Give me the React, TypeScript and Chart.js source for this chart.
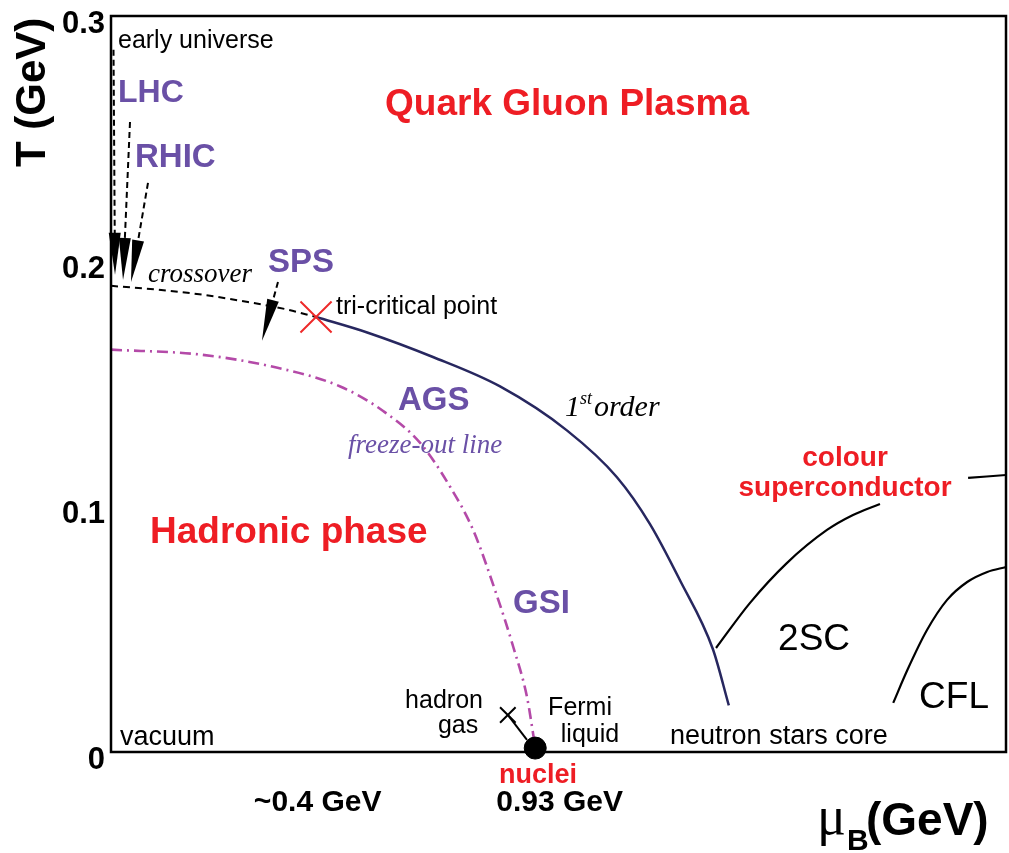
import { useEffect, useRef } from 'react';
import { Chart, registerables } from 'chart.js';

Chart.register(...registerables);

// ---- axis ticks ----
const yTickValues = [0, 0.1, 0.2, 0.3];
const yTickLabels = ['0', '0.1', '0.2', '0.3'];
const xTickValues = [0.4, 0.93];
const xTickLabels = ['~0.4 GeV', '0.93 GeV'];

// ---- curves (muB in GeV, T in GeV) ----
const crossoverMu = [0, 0.1, 0.2, 0.3, 0.38, 0.449];
const crossoverT = [0.19, 0.1885, 0.1864, 0.1834, 0.1806, 0.1773];

const firstOrderMu = [0.449, 0.561, 0.705, 0.852, 0.999, 1.108, 1.18, 1.246, 1.318, 1.353];
const firstOrderT = [0.1773, 0.171, 0.161, 0.149, 0.131, 0.112, 0.093, 0.07, 0.042, 0.019];

const freezeOutMu = [0, 0.195, 0.355, 0.502, 0.596, 0.677, 0.743, 0.793, 0.846, 0.881, 0.911, 0.929];
const freezeOutT = [0.164, 0.162, 0.157, 0.149, 0.139, 0.126, 0.108, 0.0905, 0.0632, 0.0428, 0.0224, 0.002];

const twoScMu = [1.325, 1.399, 1.48, 1.568, 1.625, 1.684, 1.78, 1.877, 1.96];
const twoScT = [0.0424, 0.0607, 0.077, 0.0905, 0.0966, 0.1011, null, 0.1117, 0.1129];

const cflMu = [1.713, 1.744, 1.787, 1.831, 1.875, 1.919, 1.96];
const cflT = [0.02, 0.0334, 0.0497, 0.062, 0.0693, 0.0734, 0.0754];

const hadronGasLineMu = [0.869, 0.911];
const hadronGasLineT = [0.0151, 0.0049];

const triCriticalMu = [0.449];
const triCriticalT = [0.1773];
const hadronGasMu = [0.869];
const hadronGasT = [0.0151];
const nucleiMu = [0.929];
const nucleiT = [0.0016];

// ---- beam arrows (early universe, LHC, RHIC, SPS) ----
const arrowFromMu = [0.0055, 0.0416, 0.081, 0.3657];
const arrowFromT = [0.2862, 0.2568, 0.232, 0.1916];
const arrowToMu = [0.0088, 0.0263, 0.0438, 0.3307];
const arrowToT = [0.1945, 0.1924, 0.1916, 0.1676];

const SANS = '"Liberation Sans", Arial, Helvetica, sans-serif';
const SERIF = '"Liberation Serif", "Times New Roman", serif';
const PURPLE = '#6a50a6';
const RED = '#ee1d24';
const NAVY = '#27275f';
const MAGENTA = '#b44aa8';

// ---- text annotations ----
const noteText = ['early universe', 'LHC', 'RHIC', 'crossover', 'SPS', 'tri-critical point', 'Quark Gluon Plasma', 'AGS', 'freeze-out line', 'colour', 'superconductor', 'Hadronic phase', 'GSI', '2SC', 'CFL', 'hadron', 'gas', 'Fermi', 'liquid', 'vacuum', 'neutron stars core', 'nuclei'];
const noteMu = [0.0153, 0.0153, 0.0526, 0.081, 0.3438, 0.4928, 0.6001, 0.6286, 0.519, 1.6075, 1.6075, 0.0854, 0.8804, 1.4608, 1.7696, 0.7293, 0.76, 1.0272, 1.049, 0.0197, 1.2243, 0.9352];
const noteT = [0.2899, 0.2687, 0.2422, 0.1945, 0.1994, 0.1814, 0.2638, 0.1431, 0.1248, 0.1199, 0.1076, 0.0893, 0.0604, 0.0457, 0.022, 0.0208, 0.0106, 0.018, 0.007, 0.0057, 0.0065, -0.0094];
const noteAlign = ['left', 'left', 'left', 'left', 'left', 'left', 'left', 'left', 'left', 'center', 'center', 'left', 'left', 'left', 'left', 'center', 'center', 'center', 'center', 'left', 'left', 'center'];
const noteFont = [
  `25px ${SANS}`, `bold 32px ${SANS}`, `bold 33px ${SANS}`, `italic 27px ${SERIF}`, `bold 33px ${SANS}`,
  `25px ${SANS}`, `bold 37px ${SANS}`, `bold 33px ${SANS}`, `italic 27px ${SERIF}`, `bold 28px ${SANS}`,
  `bold 28px ${SANS}`, `bold 37px ${SANS}`, `bold 33px ${SANS}`, `37px ${SANS}`, `37px ${SANS}`,
  `25px ${SANS}`, `25px ${SANS}`, `25px ${SANS}`, `25px ${SANS}`, `27px ${SANS}`, `27px ${SANS}`, `bold 27px ${SANS}`,
];
const noteColor = ['#000', PURPLE, PURPLE, '#000', PURPLE, '#000', RED, PURPLE, PURPLE, RED, RED, RED, PURPLE, '#000', '#000', '#000', '#000', '#000', '#000', '#000', '#000', RED];

const pts = (xs: number[], ys: (number | null)[]) => xs.map((x, i) => ({ x, y: ys[i] }));

const noPadding = (s: any) => {
  s.paddingTop = 0;
  s.paddingBottom = 0;
  s.paddingLeft = 0;
  s.paddingRight = 0;
};

const overlay = {
  id: 'overlay',
  afterDatasetsDraw(chart: any) {
    const { ctx, scales } = chart;
    const sx = scales.x;
    const sy = scales.y;
    ctx.save();
    for (let i = 0; i < arrowFromMu.length; i++) {
      const x0 = sx.getPixelForValue(arrowFromMu[i]);
      const y0 = sy.getPixelForValue(arrowFromT[i]);
      const x1 = sx.getPixelForValue(arrowToMu[i]);
      const y1 = sy.getPixelForValue(arrowToT[i]);
      const len = Math.hypot(x1 - x0, y1 - y0);
      const ux = (x1 - x0) / len;
      const uy = (y1 - y0) / len;
      const L = 42;
      const w = 6;
      const bx = x1 - ux * L;
      const by = y1 - uy * L;
      ctx.strokeStyle = '#000';
      ctx.lineWidth = 2;
      ctx.setLineDash([6, 4]);
      ctx.beginPath();
      ctx.moveTo(x0, y0);
      ctx.lineTo(bx + ux * 3, by + uy * 3);
      ctx.stroke();
      ctx.setLineDash([]);
      ctx.fillStyle = '#000';
      ctx.beginPath();
      ctx.moveTo(x1, y1);
      ctx.lineTo(bx - uy * w, by + ux * w);
      ctx.lineTo(bx + uy * w, by - ux * w);
      ctx.closePath();
      ctx.fill();
    }
    ctx.restore();
  },
  afterDraw(chart: any) {
    const { ctx, chartArea: a, scales } = chart;
    const sx = scales.x;
    const sy = scales.y;
    ctx.save();
    // frame
    ctx.strokeStyle = '#000';
    ctx.lineWidth = 2.5;
    ctx.strokeRect(a.left, a.top, a.right - a.left, a.bottom - a.top);

    // annotations
    ctx.textBaseline = 'middle';
    for (let i = 0; i < noteText.length; i++) {
      ctx.font = noteFont[i];
      ctx.fillStyle = noteColor[i];
      ctx.textAlign = noteAlign[i];
      ctx.fillText(noteText[i], sx.getPixelForValue(noteMu[i]), sy.getPixelForValue(noteT[i]));
    }

    // "1st order"
    ctx.textBaseline = 'alphabetic';
    ctx.textAlign = 'left';
    let px = sx.getPixelForValue(0.9943);
    const py = sy.getPixelForValue(0.137);
    ctx.fillStyle = '#000';
    ctx.font = `italic 30px ${SERIF}`;
    ctx.fillText('1', px, py);
    px += ctx.measureText('1').width;
    ctx.font = `italic 18px ${SERIF}`;
    ctx.fillText('st', px, py - 12);
    px += ctx.measureText('st').width + 2;
    ctx.font = `italic 30px ${SERIF}`;
    ctx.fillText('order', px, py);

    // y axis title
    ctx.save();
    ctx.translate(45, 167);
    ctx.rotate(-Math.PI / 2);
    ctx.font = `bold 42px ${SANS}`;
    ctx.fillText('T (GeV)', 0, 0);
    ctx.restore();

    // x axis title
    ctx.font = `54px ${SERIF}`;
    ctx.fillText('\u03bc', 817, 834);
    ctx.font = `bold 30px ${SANS}`;
    ctx.fillText('B', 847, 850);
    ctx.font = `bold 46px ${SANS}`;
    ctx.fillText('(GeV)', 866, 835);
    ctx.restore();
  },
};

export default function App() {
  const ref = useRef<HTMLCanvasElement>(null);
  useEffect(() => {
    document.body.style.margin = '0';
    const canvas = ref.current!;
    const chart = new Chart(canvas, {
      type: 'line',
      data: {
        datasets: [
          {
            data: pts(triCriticalMu, triCriticalT),
            showLine: false,
            pointStyle: 'crossRot',
            pointRadius: 22,
            pointBorderColor: '#ee2a2a',
            pointBorderWidth: 2,
            clip: false,
          },
          {
            data: pts(nucleiMu, nucleiT),
            showLine: false,
            pointStyle: 'circle',
            pointRadius: 11,
            pointBackgroundColor: '#000',
            pointBorderColor: '#000',
            clip: false,
          },
          {
            data: pts(hadronGasMu, hadronGasT),
            showLine: false,
            pointStyle: 'crossRot',
            pointRadius: 11,
            pointBorderColor: '#000',
            pointBorderWidth: 2,
          },
          {
            data: pts(hadronGasLineMu, hadronGasLineT),
            borderColor: '#000',
            borderWidth: 2,
            pointRadius: 0,
          },
          {
            data: pts(crossoverMu, crossoverT),
            borderColor: '#000',
            borderWidth: 2,
            borderDash: [7, 5],
            pointRadius: 0,
            cubicInterpolationMode: 'monotone',
          },
          {
            data: pts(firstOrderMu, firstOrderT),
            borderColor: NAVY,
            borderWidth: 2.5,
            pointRadius: 0,
            cubicInterpolationMode: 'monotone',
          },
          {
            data: pts(freezeOutMu, freezeOutT),
            borderColor: MAGENTA,
            borderWidth: 2.6,
            borderDash: [11, 5, 2, 5],
            pointRadius: 0,
            cubicInterpolationMode: 'monotone',
          },
          {
            data: pts(twoScMu, twoScT),
            borderColor: '#000',
            borderWidth: 2.2,
            pointRadius: 0,
            spanGaps: false,
            cubicInterpolationMode: 'monotone',
          },
          {
            data: pts(cflMu, cflT),
            borderColor: '#000',
            borderWidth: 2.2,
            pointRadius: 0,
            cubicInterpolationMode: 'monotone',
          },
        ],
      },
      options: {
        responsive: false,
        animation: false,
        events: [],
        layout: { autoPadding: false, padding: { left: 0, top: 16, right: 3, bottom: 0 } },
        plugins: { legend: { display: false }, tooltip: { enabled: false }, title: { display: false } },
        scales: {
          x: {
            type: 'linear',
            min: 0,
            max: 1.96,
            grid: { display: false, drawTicks: false },
            border: { display: false },
            afterBuildTicks: (s: any) => { s.ticks = xTickValues.map((v) => ({ value: v })); },
            afterFit: (s: any) => { s.height = 101; noPadding(s); },
            ticks: {
              autoSkip: false,
              maxRotation: 0,
              padding: 36,
              labelOffset: 24,
              color: '#000',
              font: { family: SANS, size: 30, weight: 'bold', lineHeight: 1 },
              callback: (_v: any, i: number) => xTickLabels[i],
            },
          },
          y: {
            type: 'linear',
            min: 0,
            max: 0.3,
            grid: { display: false, drawTicks: false },
            border: { display: false },
            afterBuildTicks: (s: any) => { s.ticks = yTickValues.map((v) => ({ value: v })); },
            afterFit: (s: any) => { s.width = 111; noPadding(s); },
            ticks: {
              padding: 6,
              labelOffset: 8,
              color: '#000',
              font: { family: SANS, size: 31, weight: 'bold', lineHeight: 1 },
              callback: (_v: any, i: number) => yTickLabels[i],
            },
          },
        },
      },
      plugins: [overlay],
    } as any);
    return () => chart.destroy();
  }, []);
  return (
    <div style={{ width: 1009, height: 853, background: '#fff' }}>
      <canvas ref={ref} width={1009} height={853} style={{ display: 'block' }} />
    </div>
  );
}
